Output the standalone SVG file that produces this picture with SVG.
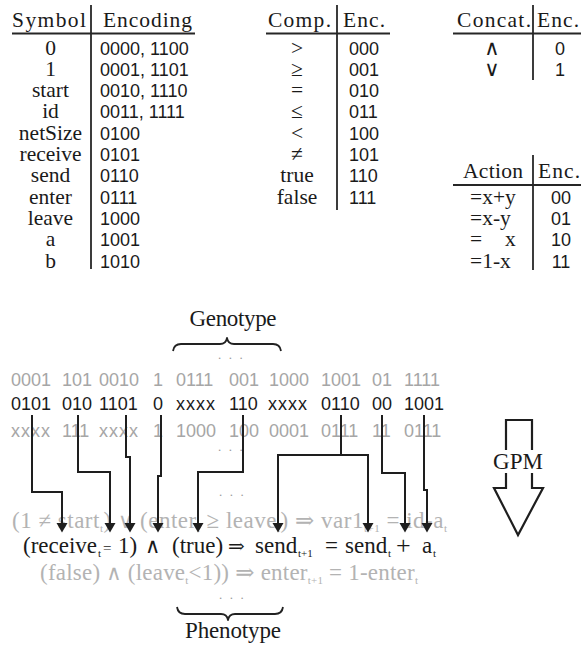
<svg xmlns="http://www.w3.org/2000/svg" width="581" height="648" viewBox="0 0 581 648">
  <style>
    .s { font-family: "Liberation Serif", "Times New Roman", "DejaVu Serif", serif; font-size: 21.5px; fill: #1a1a1a; }
    .f { font-family: "Liberation Serif", "Times New Roman", "DejaVu Serif", serif; font-size: 23px; fill: #1a1a1a; }
    .m { font-family: "Liberation Sans", Arial, sans-serif; font-size: 18px; fill: #1a1a1a; }
    .op { font-family: "DejaVu Sans", "Noto Sans", sans-serif; font-size: 21px; font-weight: normal; }
    .c { text-anchor: middle; }
    .gray { fill: #a6a6a6; }
    .lgray { fill: #b3b3b3; }
    .sb { font-size: 11px; }
    .xs { letter-spacing: 1px; }
    .dots { font-family: "Liberation Serif", serif; font-size: 13px; fill: #9a9a9a; letter-spacing: 7.5px; }
    .rule { stroke: #262626; stroke-width: 1.8; fill: none; }
    .wire { stroke: #1e1e1e; stroke-width: 2; fill: none; marker-end: url(#ah); }
    .brace { stroke: #222; stroke-width: 1.8; fill: none; stroke-linejoin: round; }
    .big { stroke: #1e1e1e; stroke-width: 2.2; fill: none; stroke-linejoin: miter; }
  </style>
  <defs>
    <marker id="ah" markerUnits="userSpaceOnUse" markerWidth="10" markerHeight="12" refX="0" refY="5.5" orient="auto">
      <path d="M0,0 L9.5,5.5 L0,11 z" fill="#1e1e1e"/>
    </marker>
  </defs>

  <!-- Symbol / Encoding table -->
  <g id="symbol-table">
    <text class="s" x="12" y="27" textLength="74">Symbol</text>
    <text class="s" x="103" y="27" textLength="89">Encoding</text>
    <line class="rule" x1="12" y1="33.5" x2="195" y2="33.5"/>
    <line class="rule" x1="91" y1="5" x2="91" y2="269"/>
    <g class="s c">
      <text x="50.5" y="54.5">0</text>
      <text x="50.5" y="75.8">1</text>
      <text x="50.5" y="97.1">start</text>
      <text x="50.5" y="118.4">id</text>
      <text x="50.5" y="139.7">netSize</text>
      <text x="50.5" y="161">receive</text>
      <text x="50.5" y="182.3">send</text>
      <text x="50.5" y="203.6">enter</text>
      <text x="50.5" y="224.9">leave</text>
      <text x="50.5" y="246.2">a</text>
      <text x="50.5" y="267.5">b</text>
    </g>
    <g class="m">
      <text x="100" y="54.5">0000, 1100</text>
      <text x="100" y="75.8">0001, 1101</text>
      <text x="100" y="97.1">0010, 1110</text>
      <text x="100" y="118.4">0011, 1111</text>
      <text x="100" y="139.7">0100</text>
      <text x="100" y="161">0101</text>
      <text x="100" y="182.3">0110</text>
      <text x="100" y="203.6">0111</text>
      <text x="100" y="224.9">1000</text>
      <text x="100" y="246.2">1001</text>
      <text x="100" y="267.5">1010</text>
    </g>
  </g>

  <!-- Comparison table -->
  <g id="comp-table">
    <text class="s" x="268" y="27" textLength="63">Comp.</text>
    <text class="s" x="343" y="27" textLength="42">Enc.</text>
    <line class="rule" x1="266" y1="33.5" x2="390" y2="33.5"/>
    <line class="rule" x1="337" y1="5" x2="337" y2="210"/>
    <g class="s c">
      <text x="297" y="54.5">&gt;</text>
      <text x="297" y="75.8">≥</text>
      <text x="297" y="97.1">=</text>
      <text x="297" y="118.4">≤</text>
      <text x="297" y="139.7">&lt;</text>
      <text x="297" y="161">≠</text>
      <text x="297" y="182.3">true</text>
      <text x="297" y="203.6">false</text>
    </g>
    <g class="m">
      <text x="349" y="54.5">000</text>
      <text x="349" y="75.8">001</text>
      <text x="349" y="97.1">010</text>
      <text x="349" y="118.4">011</text>
      <text x="349" y="139.7">100</text>
      <text x="349" y="161">101</text>
      <text x="349" y="182.3">110</text>
      <text x="349" y="203.6">111</text>
    </g>
  </g>

  <!-- Concatenation table -->
  <g id="concat-table">
    <text class="s" x="457" y="27" textLength="74">Concat.</text>
    <text class="s" x="537" y="27" textLength="42">Enc.</text>
    <line class="rule" x1="453" y1="33.5" x2="581" y2="33.5"/>
    <line class="rule" x1="533" y1="5" x2="533" y2="80"/>
    <text class="op c" x="492" y="55" fill="#1a1a1a">∧</text>
    <text class="op c" x="492" y="76.3" fill="#1a1a1a">∨</text>
    <text class="m c" x="560" y="54.5">0</text>
    <text class="m c" x="560" y="75.8">1</text>
  </g>

  <!-- Action table -->
  <g id="action-table">
    <text class="s" x="463" y="178" textLength="60">Action</text>
    <text class="s" x="538" y="178" textLength="42">Enc.</text>
    <line class="rule" x1="453" y1="185" x2="581" y2="185"/>
    <line class="rule" x1="533" y1="155" x2="533" y2="270"/>
    <text class="s" x="470" y="203.6">=x+y</text>
    <text class="s" x="470" y="224.9">=x-y</text>
    <text class="s" x="470" y="246.2">=</text>
    <text class="s" x="505" y="246.2">x</text>
    <text class="s" x="470" y="267.5">=1-x</text>
    <g class="m c">
      <text x="561" y="203.6">00</text>
      <text x="561" y="224.9">01</text>
      <text x="561" y="246.2">10</text>
      <text x="561" y="267.5">11</text>
    </g>
  </g>

  <!-- Genotype: label, brace and bit strings -->
  <g id="genotype">
    <text class="f c" x="233" y="326" textLength="87">Genotype</text>
    <path class="brace" d="M173,351 Q174,344 181,344 H220 Q226,344 227,338 Q228,344 234,344 H273 Q280,344 281,351"/>
    <text class="dots" x="218" y="359">...</text>
    <text class="m gray" y="386">
      <tspan x="11">0001</tspan><tspan x="62">101</tspan><tspan x="99">0010</tspan><tspan x="153">1</tspan><tspan x="176">0111</tspan><tspan x="229">001</tspan><tspan x="269">1000</tspan><tspan x="321">1001</tspan><tspan x="372">01</tspan><tspan x="404">1111</tspan>
    </text>
    <text class="m" y="410">
      <tspan x="11">0101</tspan><tspan x="62">010</tspan><tspan x="99">1101</tspan><tspan x="153">0</tspan><tspan class="xs" x="176">xxxx</tspan><tspan x="229">110</tspan><tspan class="xs" x="268">xxxx</tspan><tspan x="321">0110</tspan><tspan x="372">00</tspan><tspan x="404">1001</tspan>
    </text>
    <text class="m gray" y="437">
      <tspan class="xs" x="11">xxxx</tspan><tspan x="62">111</tspan><tspan class="xs" x="99">xxxx</tspan><tspan x="153">1</tspan><tspan x="176">1000</tspan><tspan x="229">100</tspan><tspan x="269">0001</tspan><tspan x="321">0111</tspan><tspan x="372">11</tspan><tspan x="404">0111</tspan>
    </text>
    <text class="dots" x="218" y="451">...</text>
  </g>

  <!-- Phenotype: rules, brace and label -->
  <g id="phenotype">
    <text class="dots" x="219" y="496">...</text>
    <text class="f lgray" x="12" y="528" textLength="435" lengthAdjust="spacing">(1 ≠ start<tspan class="sb" dy="4">t</tspan><tspan dy="-4">) </tspan><tspan class="op" font-size="19">∨</tspan><tspan> (enter</tspan><tspan class="sb" dy="4">t</tspan><tspan dy="-4"> ≥ leave</tspan><tspan class="sb" dy="4">t</tspan><tspan dy="-4">) ⇒ var1</tspan><tspan class="sb" dy="4">t+1</tspan><tspan dy="-4"> = id-a</tspan><tspan class="sb" dy="4">t</tspan></text>
    <g id="active-rule" class="f">
      <text x="23" y="553">(receive</text>
      <text class="sb" x="98" y="557">t</text>
      <text x="103" y="553" font-size="15">=</text>
      <text x="118" y="553">1)</text>
      <text class="op" x="145" y="553" font-size="19">∧</text>
      <text x="172" y="553">(true)</text>
      <text x="228" y="553" font-size="20">⇒</text>
      <text x="255" y="553">send</text>
      <text class="sb" x="298" y="557" font-size="12">t+1</text>
      <text x="325" y="553">=</text>
      <text x="345" y="553">send</text>
      <text class="sb" x="388" y="557">t</text>
      <text x="396" y="554" font-size="26">+</text>
      <text x="422" y="553">a</text>
      <text class="sb" x="433" y="557">t</text>
    </g>
    <text class="f lgray" x="40" y="580" textLength="378" lengthAdjust="spacing">(false) <tspan class="op" font-size="19">∧</tspan><tspan> (leave</tspan><tspan class="sb" dy="4">t</tspan><tspan dy="-4">&lt;1)) ⇒ enter</tspan><tspan class="sb" dy="4">t+1</tspan><tspan dy="-4"> = 1-enter</tspan><tspan class="sb" dy="4">t</tspan></text>
    <text class="dots" x="219" y="599">...</text>
    <path class="brace" d="M177,607 Q178,614 185,614 H221 Q227,614 228,620 Q229,614 235,614 H275 Q282,614 283,607"/>
    <text class="f c" x="233" y="638" textLength="96">Phenotype</text>
  </g>

  <!-- Genotype-to-phenotype mapping arrow -->
  <g id="gpm">
    <path class="big" d="M506,450 V420 H532 V450"/>
    <path class="big" d="M506,473 V488 H494 L518,535 L543,488 H532 V473"/>
    <text class="f c" x="518" y="469">GPM</text>
  </g>

  <!-- Connectors from genes to rule terms -->
  <g id="connectors">
    <path class="wire" d="M32,415 V492 H62 V523"/>
    <path class="wire" d="M78,415 V472 H110 V523"/>
    <path class="wire" d="M126,415 V457 H130 V523"/>
    <path class="wire" d="M161,415 V476 H158 V523"/>
    <path class="wire" d="M243,415 V472 H198 V523"/>
    <path class="wire" d="M341,415 V455 H278 V523"/>
    <path class="wire" d="M341,455 H368 V523"/>
    <path class="wire" d="M382,415 V473 H405 V523"/>
    <path class="wire" d="M424,415 V490 H427 V523"/>
  </g>
</svg>
